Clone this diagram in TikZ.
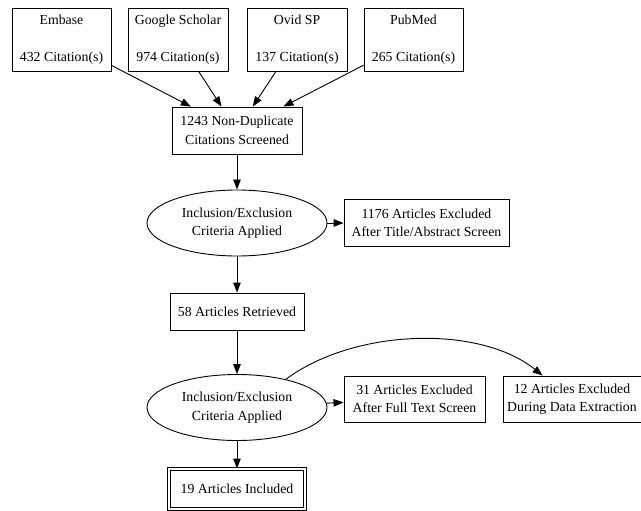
\documentclass[tikz,border=0pt]{standalone}
\usepackage{fontspec}
\setmainfont{Liberation Serif}
\usetikzlibrary{shapes.geometric,arrows.meta}
\begin{document}
\begin{tikzpicture}[x=1pt,y=-1pt,
  every node/.style={font=\fontsize{13.8}{18.5}\selectfont, align=center, inner sep=0pt},
  box/.style={draw, line width=0.9pt, rectangle},
  ell/.style={draw, line width=0.9pt, ellipse, minimum width=180pt, minimum height=66pt},
  arr/.style={-{Triangle[length=10pt,width=7.5pt]}, line width=0.9pt}]
\useasboundingbox (0,0) rectangle (641,511);
\node[box, minimum width=99pt, minimum height=63pt] (embase) at (61.5,39.5) {Embase\\[18pt]432 Citation(s)};
\node[box, minimum width=100pt, minimum height=63pt] (google) at (178,39.5) {Google Scholar\\[18pt]974 Citation(s)};
\node[box, minimum width=100pt, minimum height=63pt] (ovid) at (297,39.5) {Ovid SP\\[18pt]137 Citation(s)};
\node[box, minimum width=99pt, minimum height=63pt] (pubmed) at (413.5,39.5) {PubMed\\[18pt]265 Citation(s)};
\node[box, minimum width=130pt, minimum height=47pt] (nondup) at (237,130.5) {1243 Non-Duplicate\\Citations Screened};
\node[ell] (crit1) at (237,223) {Inclusion/Exclusion\\Criteria Applied};
\node[box, minimum width=165pt, minimum height=47pt] (excl1) at (426.5,223) {1176 Articles Excluded\\After Title/Abstract Screen};
\node[box, minimum width=134pt, minimum height=37pt] (retr) at (237,311.5) {58 Articles Retrieved};
\node[ell] (crit2) at (237,407.5) {Inclusion/Exclusion\\Criteria Applied};
\node[box, minimum width=141pt, minimum height=46pt] (excl2) at (414.5,399) {31 Articles Excluded\\After Full Text Screen};
\node[box, minimum width=138pt, minimum height=46pt] (excl3) at (572,399) {12 Articles Excluded\\During Data Extraction};
\node[box, double, double distance=2.2pt, minimum width=136pt, minimum height=40pt] (incl) at (237,489) {19 Articles Included};
\foreach \s in {embase,google,ovid,pubmed}
  \draw[arr] (\s) -- (nondup);
\draw[arr] (nondup) -- (crit1);
\draw[arr] (crit1) -- (excl1);
\draw[arr] (crit1) -- (retr);
\draw[arr] (retr) -- (crit2);
\draw[arr] (crit2) -- (excl2);
\draw[arr] (crit2) -- (incl);
\coordinate (c3) at ([xshift=40pt]excl3.north west);
\draw[arr] (crit2.30) .. controls (355,328) and (480,325) .. (c3);
\end{tikzpicture}
\end{document}
